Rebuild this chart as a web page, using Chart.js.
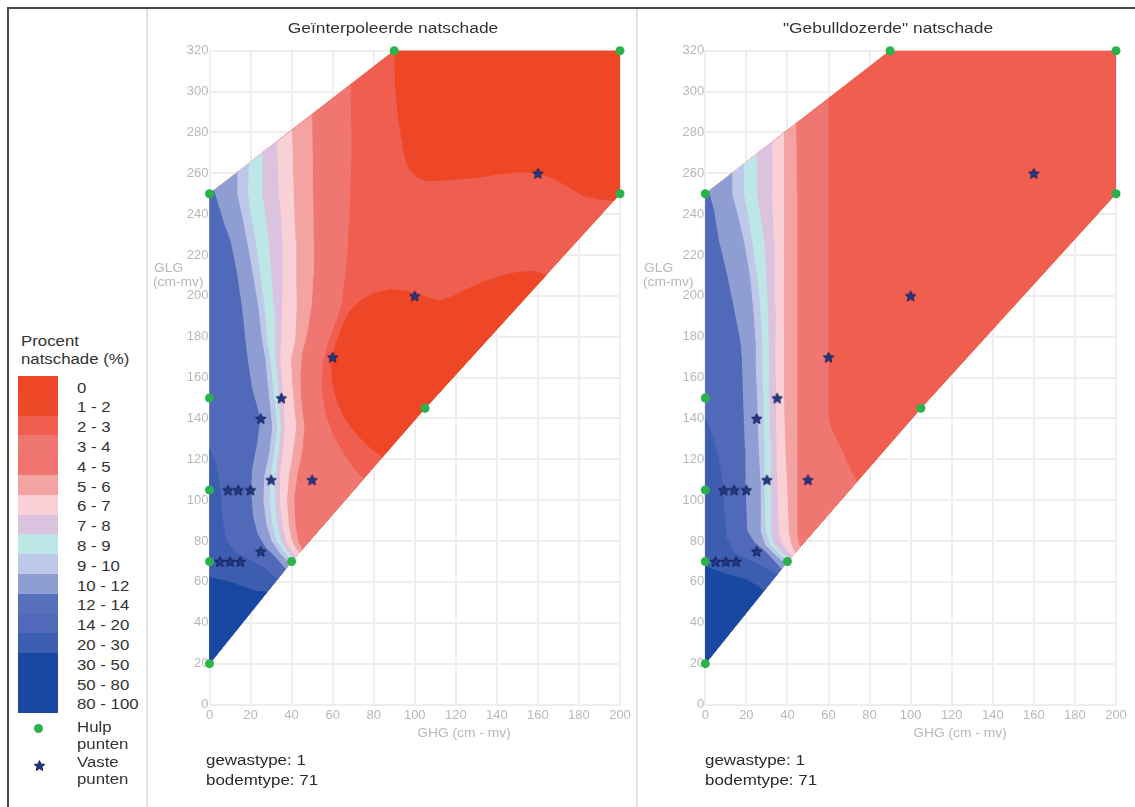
<!DOCTYPE html>
<html><head><meta charset="utf-8">
<script src="https://cdn.jsdelivr.net/npm/chart.js@4.4.1/dist/chart.umd.min.js"></script>
<style>
html,body{margin:0;padding:0;background:#fff;}
#wrap{position:relative;width:1135px;height:807px;overflow:hidden;background:#fff;font-family:'Liberation Sans',Arial,Helvetica,sans-serif;}
.t{position:absolute;white-space:nowrap;height:18px;line-height:18px;transform-origin:0 50%;}
.ctr{position:absolute;white-space:nowrap;height:18px;line-height:18px;}
.ln{position:absolute;}
canvas{position:absolute;top:0;}
</style></head>
<body><div id="wrap">
<div class="ln" style="left:7px;top:7px;width:1128px;height:1.5px;background:#4a4a4a"></div>
<div class="ln" style="left:7px;top:7px;width:1.5px;height:800px;background:#4a4a4a"></div>
<div class="ln" style="left:146px;top:8.5px;width:2px;height:800px;background:#dde2e5"></div>
<div class="ln" style="left:636px;top:8.5px;width:2px;height:800px;background:#dde2e5"></div>
<canvas id="c1" width="486" height="807" style="left:150px"></canvas>
<canvas id="c2" width="495" height="807" style="left:640px"></canvas>
</div>
<script>
// ---------- data ----------
const NIVEAUS = ['0','1 - 2','2 - 3','3 - 4','4 - 5','5 - 6','6 - 7','7 - 8','8 - 9','9 - 10','10 - 12','12 - 14','14 - 20','20 - 30','30 - 50','50 - 80','80 - 100'];
const KLEUREN = ['#EE4727','#EE4A2A','#EF5E4E','#F07672','#F07470','#F4A3A3','#F9D0D5','#DBC3E0','#BDE6E6','#BEC8E8','#8E9ED3','#5670BC','#5069B8','#3D5DB0','#1848A2','#1848A2','#1848A2'];
const TITELS = ['Geïnterpoleerde natschade','"Gebulldozerde" natschade'];
const INFO = ['gewastype: 1','bodemtype: 71'];
// helper points (GHG, GLG), in hull order
const HULPPUNTEN = [[0,20],[0,70],[0,105],[0,150],[0,250],[90,320],[200,320],[200,250],[105,145],[40,70]];
// fixed points (GHG, GLG)
const VASTEPUNTEN = [[160,260],[100,200],[60,170],[35,150],[25,140],[30,110],[50,110],[9,105],[14,105],[20,105],[5,70],[10,70],[15,70],[25,75]];

// --- interpolated panel: contour boundaries (GHG, GLG) ---
const interpNulBoven = [[90,320],[200,320],[200,250],[197,246.7],[190,247.5],[182,249],[174,254],[166,258.3],[158,260.5],[150,260.8],[140,259.5],[130,258],[120,257],[110,256.5],[105.8,256.2],[101,258.3],[98,261.5],[96,265],[93.7,276.8],[92,288],[90.4,304]];
const interpNulMidden = [[84.4,121.2],[78,126],[72,132],[66,140],[62,149],[60,158],[59.5,168],[61.5,176],[64,183],[68,192],[74,198],[81,201.5],[88,203],[95,202.5],[101,201],[107,199],[112,197.5],[118,199.5],[125,203],[133,206.5],[141,209.5],[150,211.5],[158,212],[164,210.2],[105,145]];
const interpGrens3 = [[68.5,303.3],[69,270],[68,240],[66.5,215],[64,195],[58.5,180],[55,168],[54.5,155],[56,143],[60,132],[65,123],[70,115.5],[75,110.4]];
const interpGrens5 = [[49.8,288.7],[50.3,250],[50.6,227],[50.5,210],[49.5,195],[47.5,182],[45,172],[44,162],[44.5,149],[46,136],[45,124],[42.5,112],[41,100],[41.7,88],[43,80],[45,75.8]];
const interpGrens6 = [[40,281.1],[40.8,250],[41.2,240],[41.7,227],[42,210],[42.3,195],[41.5,178],[39.5,169],[40,158],[40.8,149],[42,136],[40.5,124],[38.5,112],[37.5,100],[38.4,88],[40,80],[42,76],[43.5,74]];
const interpGrens7 = [[32.7,275.4],[33.5,250],[34.5,240],[35.2,227],[35.2,210],[35,195],[34.6,178],[34.3,169],[35,158],[35.8,149],[36.5,136],[35.5,124],[34,112],[34,100],[35.2,88],[37,80],[39.5,75.5],[42.2,72.5]];
const interpGrens8 = [[25.4,269.8],[25.4,250],[27,240],[28.7,227],[30,210],[31,195],[31.4,178],[31.9,169],[33,158],[33.5,149],[34.5,136],[33.5,124],[31.8,112],[31.5,100],[32.8,88],[34.5,80],[37.5,75],[41,71.2]];
const interpGrens9 = [[18.9,264.7],[18.5,250],[20,240],[22.2,227],[24.5,210],[26.5,195],[27.8,178],[29.5,169],[30.5,158],[31.5,149],[32.8,136],[31.5,124],[29.5,112],[29,100],[30.4,88],[32.5,80],[36,75],[40,70]];
const interpGrens10 = [[13.2,260.3],[13.2,250],[15.5,240],[18,227],[21,210],[23.5,195],[25.4,178],[27,169],[28,158],[29,149],[30.3,136],[29,124],[26.5,112],[26,100],[27.5,88],[30,80],[34,74],[39,68.75]];
const interpGrens12 = [[2,251.6],[4,245],[7,235],[10,227],[13,212],[15.5,195],[17.3,178],[18.5,168],[20.5,155],[24.5,140],[23,128],[20.5,115],[20,105],[21,92],[23,84],[27,77],[32,72],[37,66.25]];
const interpGrens20 = [[0,125],[3,118],[5,105],[6,92],[8,80],[13,74],[20,70.5],[27,66.5],[33,61.25]];
const interpGrens30 = [[0,62],[8,60.5],[15,58],[22,55.5],[28,55]];

// --- bulldozed panel: contour boundaries (GHG, GLG) ---
const bullGrens3 = [[59.7,296.4],[59.7,250],[59.7,200],[59.7,140],[62,133],[65.6,126],[70,116],[73.7,108.9]];
const bullGrens5 = [[44,284.2],[44.5,250],[44.5,200],[44.5,150],[44.5,110],[44.5,85],[45,80],[46,76.9]];
const bullGrens6 = [[38,279.6],[38,250],[38,210],[38,178],[38.3,150],[39,120],[39.5,110],[40.4,85],[41.5,79],[43.5,74]];
const bullGrens7 = [[32.3,275.1],[32.3,250],[32.6,240],[33,227],[33.4,210],[33.7,195],[33.9,178],[34,160],[34.2,140],[34.7,110],[35.5,85],[37,79],[39.5,75.5],[42.2,72.5]];
const bullGrens8 = [[25,269.4],[25,250],[26.5,240],[28.5,227],[29.5,210],[30.2,195],[30.6,178],[30.6,169],[31,150],[31.3,130],[31.5,110],[31.5,85],[33.5,78],[37.5,74],[41,71.2]];
const bullGrens9 = [[18.5,264.4],[18.5,250],[20.5,240],[22.5,227],[25,210],[26.5,195],[27.4,178],[27.4,169],[28,150],[28.3,130],[28.5,110],[29.1,85],[31.5,78],[36,73.5],[40,70]];
const bullGrens10 = [[12.8,259.9],[12.8,250],[15.5,240],[18.5,227],[21.5,210],[23,195],[24.2,178],[24.2,169],[25,150],[25.5,130],[26.5,110],[26.6,85],[29,78],[34,73],[39,68.75]];
const bullGrens12 = [[1.5,251.2],[4,242],[6.4,227],[10,212],[13.5,195],[16.8,178],[17.6,169],[18,155],[18.5,140],[19,125],[19.2,110],[19.8,95],[20.2,85],[24,79],[30,74],[37,66.25]];
const bullGrens20 = [[0,140],[3,132],[6,122],[8,110],[9,95],[10,82],[14,74],[22,70.5],[30,66],[35,63.75]];
const bullGrens30 = [[0,67.4],[8.8,64.2],[20.2,60.9],[26,57.5],[28.5,55.6]];

// ---------- build ----------
const H = HULPPUNTEN;
const staartRand = [H[9], H[0], H[4]];   // line ends on lower-right hull edge
const staartOnder = [H[0], H[4]];        // line ends on lower hull edge

function vlak(points, kleur, order) {
  return {
    data: points.map(p => ({x: p[0], y: p[1]})),
    showLine: true, fill: 'shape', tension: 0, spanGaps: true,
    backgroundColor: kleur, borderColor: kleur, borderWidth: 1,
    pointRadius: 0, pointHoverRadius: 0, order: order,
    xAxisID: 'x', yAxisID: 'y'
  };
}

function maakSter(size) {
  const c = document.createElement('canvas');
  c.width = size; c.height = size;
  const g = c.getContext('2d');
  const cx = size / 2, cy = size / 2 + 0.6, R = size / 2 - 1, r = R * 0.45;
  g.beginPath();
  for (let i = 0; i < 10; i++) {
    const a = -Math.PI / 2 + i * Math.PI / 5, rr = i % 2 ? r : R;
    g.lineTo(cx + rr * Math.cos(a), cy + rr * Math.sin(a));
  }
  g.closePath();
  g.fillStyle = '#1E3A8E'; g.fill();
  g.lineWidth = 1; g.strokeStyle = '#1B1F52'; g.stroke();
  return c;
}
const ster = maakSter(13);

function markers() {
  return [
    {data: VASTEPUNTEN.map(p => ({x: p[0], y: p[1]})), pointStyle: ster, pointRadius: 6.5, pointHoverRadius: 6.5, showLine: false, order: 0, clip: false, xAxisID: 'x', yAxisID: 'y'},
    {data: HULPPUNTEN.map(p => ({x: p[0], y: p[1]})), pointStyle: 'circle', pointRadius: 4.5, pointHoverRadius: 4.5, backgroundColor: '#2AB24B', borderWidth: 0, showLine: false, order: 1, clip: false, xAxisID: 'x', yAxisID: 'y'}
  ];
}

function banden(lijst) {
  return lijst.map((b, i) => vlak(b[0], b[1], 100 - i));
}

const interpBanden = banden([
  [HULPPUNTEN, KLEUREN[2]],
  [interpNulBoven, KLEUREN[0]],
  [interpNulMidden, KLEUREN[0]],
  [interpGrens3.concat(staartRand), KLEUREN[3]],
  [interpGrens5.concat(staartRand), KLEUREN[5]],
  [interpGrens6.concat(staartRand), KLEUREN[6]],
  [interpGrens7.concat(staartRand), KLEUREN[7]],
  [interpGrens8.concat(staartRand), KLEUREN[8]],
  [interpGrens9.concat(staartRand), KLEUREN[9]],
  [interpGrens10.concat(staartOnder), KLEUREN[10]],
  [interpGrens12.concat(staartOnder), KLEUREN[12]],
  [[H[0]].concat(interpGrens20), KLEUREN[13]],
  [[H[0]].concat(interpGrens30), KLEUREN[14]]
]);
const bullBanden = banden([
  [HULPPUNTEN, KLEUREN[2]],
  [bullGrens3.concat(staartRand), KLEUREN[3]],
  [bullGrens5.concat(staartRand), KLEUREN[5]],
  [bullGrens6.concat(staartRand), KLEUREN[6]],
  [bullGrens7.concat(staartRand), KLEUREN[7]],
  [bullGrens8.concat(staartRand), KLEUREN[8]],
  [bullGrens9.concat(staartRand), KLEUREN[9]],
  [bullGrens10.concat(staartOnder), KLEUREN[10]],
  [bullGrens12.concat(staartOnder), KLEUREN[12]],
  [[H[0]].concat(bullGrens20), KLEUREN[13]],
  [[H[0]].concat(bullGrens30), KLEUREN[14]]
]);

Chart.defaults.font.family = "'Liberation Sans', Arial, Helvetica, sans-serif";
Chart.defaults.animation = false;

function opties(yWidth, padRight) {
  const tickFont = {size: 13};
  return {
    responsive: false, devicePixelRatio: 1, animation: false,
    layout: {padding: {left: 0, top: 50.7, right: padRight, bottom: 0}},
    plugins: {legend: {display: false}, tooltip: {enabled: false}, title: {display: false}},
    events: [],
    scales: {
      x: {type: 'linear', min: 0, max: 200, position: 'bottom',
          ticks: {stepSize: 20, color: '#B8B8B8', font: tickFont, padding: 3, maxRotation: 0, autoSkip: false},
          grid: {color: '#ECECEC', lineWidth: 2, drawTicks: false}, border: {display: false},
          afterFit: s => { s.height = 102.5; }},
      y: {type: 'linear', min: 0, max: 320, position: 'left',
          ticks: {stepSize: 20, color: '#B8B8B8', font: tickFont, padding: 1, autoSkip: false},
          grid: {color: '#ECECEC', lineWidth: 2, drawTicks: false}, border: {display: false},
          afterFit: s => { s.width = yWidth; }},
      xg: {type: 'linear', min: 0, max: 200, position: 'bottom', z: 1,
          ticks: {stepSize: 20, display: false}, grid: {color: 'rgba(255,255,255,0.14)', lineWidth: 2, drawTicks: false},
          border: {display: false}, afterFit: s => { s.height = 0; }},
      yg: {type: 'linear', min: 0, max: 320, position: 'left', z: 1,
          ticks: {stepSize: 20, display: false}, grid: {color: 'rgba(255,255,255,0.14)', lineWidth: 2, drawTicks: false},
          border: {display: false}, afterFit: s => { s.width = 0; }}
    }
  };
}

new Chart(document.getElementById('c1'), {
  type: 'scatter',
  data: {datasets: markers().concat(interpBanden)},
  options: opties(59.5, 16)
});
new Chart(document.getElementById('c2'), {
  type: 'scatter',
  data: {datasets: markers().concat(bullBanden)},
  options: opties(65.3, 19)
});

// ---------- texts & legend ----------
const wrap = document.getElementById('wrap');
function tekst(txt, left, cy, size, color, sx) {
  const d = document.createElement('div');
  d.className = 't'; d.textContent = txt;
  d.style.left = left + 'px'; d.style.top = (cy - 9) + 'px';
  d.style.fontSize = size + 'px'; d.style.color = color;
  d.style.transform = 'scaleX(' + sx + ')';
  wrap.appendChild(d); return d;
}
function tekstMidden(txt, cx, cy, size, color, sx) {
  const d = document.createElement('div');
  d.className = 'ctr'; d.textContent = txt;
  d.style.left = cx + 'px'; d.style.top = (cy - 9) + 'px';
  d.style.fontSize = size + 'px'; d.style.color = color;
  d.style.transform = 'translateX(-50%) scaleX(' + sx + ')';
  wrap.appendChild(d); return d;
}
// panel titles
tekstMidden(TITELS[0], 392.5, 27.7, 14, '#333', 1.24);
tekstMidden(TITELS[1], 887.5, 27.7, 14, '#333', 1.24);
// axis titles
[[153, 464], [643, 960]].forEach(p => {
  tekst('GLG', p[0] + 1, 267.5, 12, '#B8B8B8', 1.15);
  tekst('(cm-mv)', p[0], 282, 12, '#B8B8B8', 1.15);
  tekstMidden('GHG (cm - mv)', p[1], 732.5, 12, '#B8B8B8', 1.15);
});
// info
[206, 704.5].forEach(l => {
  tekst(INFO[0], l, 760, 14, '#2a2a2a', 1.21);
  tekst(INFO[1], l, 780, 14, '#2a2a2a', 1.21);
});
// legend
tekst('Procent', 20.5, 341, 14, '#333', 1.2);
tekst('natschade (%)', 20.5, 358.5, 14, '#333', 1.2);
NIVEAUS.forEach((lab, i) => {
  const sw = document.createElement('div');
  sw.style.cssText = 'position:absolute;left:18px;width:40px;top:' + (376 + i * 19.8) + 'px;height:20.3px;background:' + KLEUREN[i];
  wrap.appendChild(sw);
  tekst(lab, 77, 387.5 + i * 19.8, 14, '#333', 1.2);
});
const dot = document.createElement('div');
dot.style.cssText = 'position:absolute;left:34px;top:723.7px;width:9px;height:9px;border-radius:50%;background:#2AB24B';
wrap.appendChild(dot);
tekst('Hulp', 77, 727, 14, '#333', 1.2);
tekst('punten', 77, 743.5, 14, '#333', 1.2);
const sc = maakSter(13);
sc.style.cssText = 'position:absolute;left:33px;top:758.5px;';
wrap.appendChild(sc);
tekst('Vaste', 77, 762, 14, '#333', 1.2);
tekst('punten', 77, 779, 14, '#333', 1.2);
</script>
</body></html>
